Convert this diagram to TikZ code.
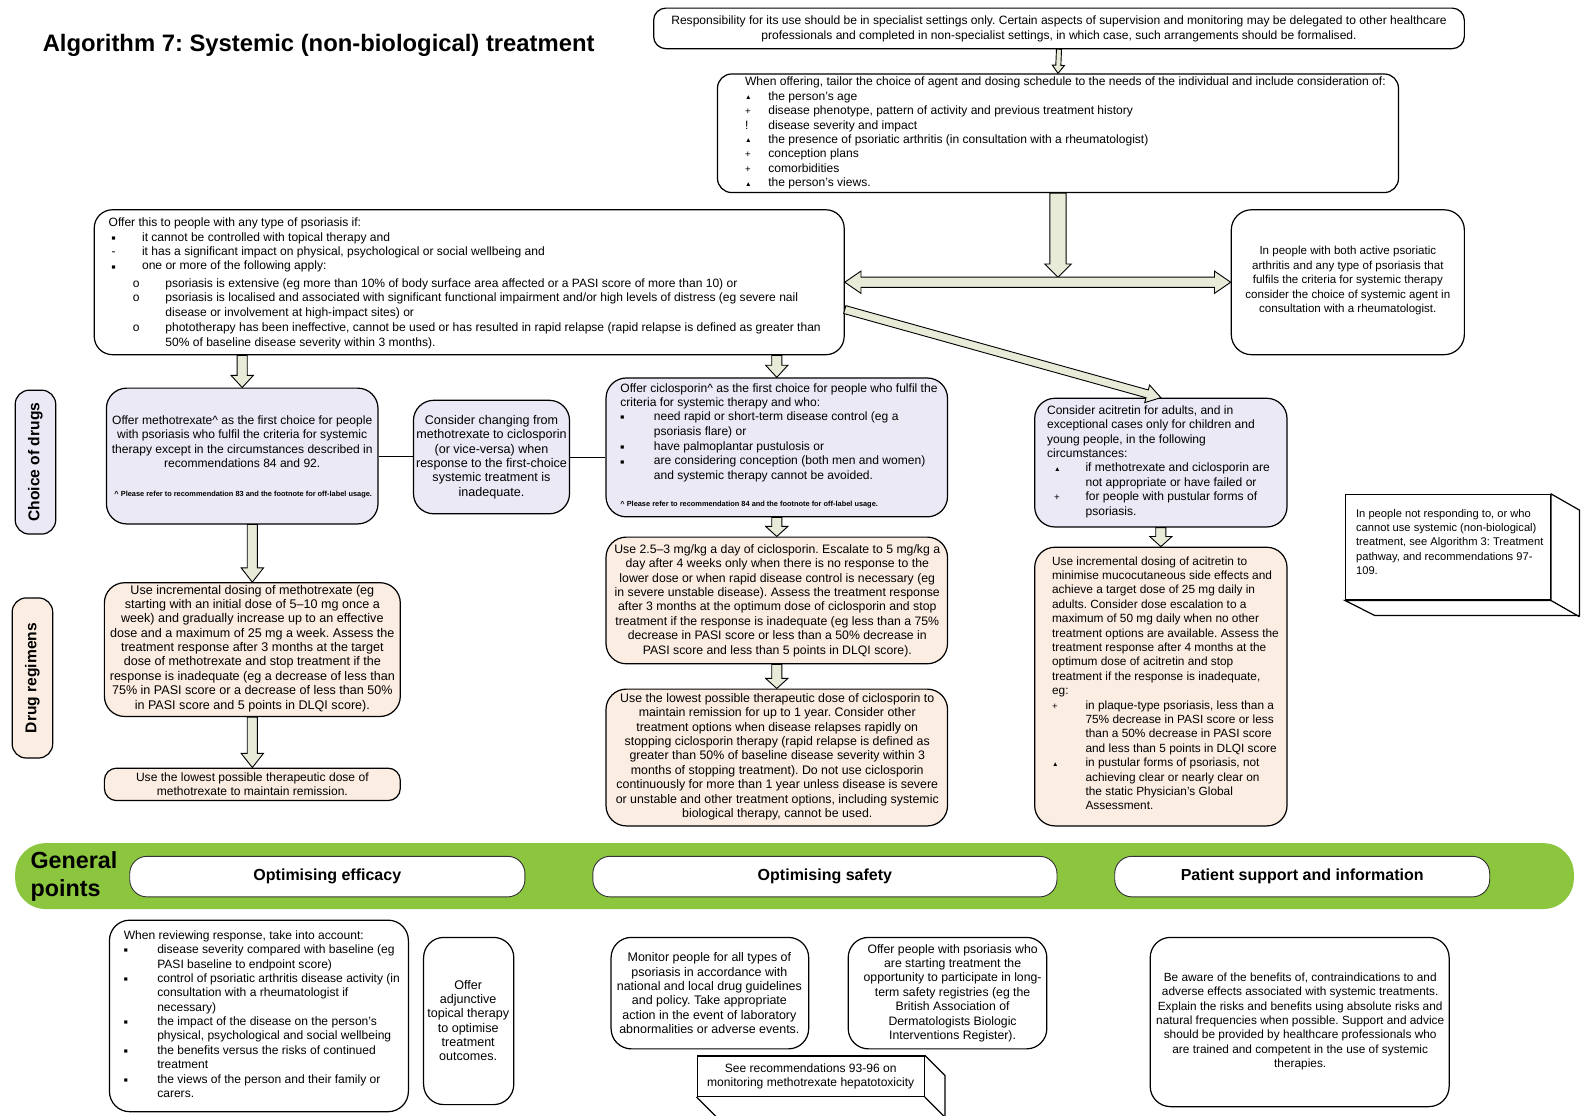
\documentclass[tikz,border=0pt]{standalone}
\usepackage{fontspec}
\usepackage{graphicx}
\setmainfont{Liberation Sans}
\usetikzlibrary{calc,fit}
\frenchspacing

\definecolor{lav}{HTML}{EAE9F5}
\definecolor{peach}{HTML}{FCEDE3}
\definecolor{band}{HTML}{8CC63F}
\definecolor{arrfill}{HTML}{E8EBD8}

% list marks
\newcommand{\tri}{\raisebox{0.6pt}{\scalebox{0.55}{▲}}}
\newcommand{\pls}{\scalebox{0.8}{+}}
\newcommand{\sqm}{\raisebox{0.8pt}{\scalebox{0.55}{■}}}
\newcommand{\mk}[2]{\makebox[#1pt][l]{#2}}
\newcommand{\ind}[1]{\hspace*{#1pt}}

% block arrow: start, end, shaft width, head width, head length
\newcommand{\blockarrow}[5]{%
  \path let \p1=#1, \p2=#2, \n1={atan2(\y2-\y1,\x2-\x1)},
    \n2={veclen(\x2-\x1,\y2-\y1)} in
    \pgfextra{\xdef\baX{\x1}\xdef\baY{\y1}\xdef\baA{\n1}\xdef\baL{\n2}};
  \begin{scope}[shift={(\baX,\baY)}, rotate=\baA]
    \draw[blockarr] (0pt,{-#3*0.5pt}) -- ({(\baL-#5)*1pt},{-#3*0.5pt})
      -- ({(\baL-#5)*1pt},{-#4*0.5pt}) -- ({\baL*1pt},0pt)
      -- ({(\baL-#5)*1pt},{#4*0.5pt}) -- ({(\baL-#5)*1pt},{#3*0.5pt})
      -- (0pt,{#3*0.5pt}) -- cycle;
  \end{scope}}

% block arrow with a head at both ends
\newcommand{\dblarrow}[5]{%
  \path let \p1=#1, \p2=#2, \n1={atan2(\y2-\y1,\x2-\x1)},
    \n2={veclen(\x2-\x1,\y2-\y1)} in
    \pgfextra{\xdef\baX{\x1}\xdef\baY{\y1}\xdef\baA{\n1}\xdef\baL{\n2}};
  \begin{scope}[shift={(\baX,\baY)}, rotate=\baA]
    \draw[blockarr] (0pt,0pt) -- ({#5*1pt},{-#4*0.5pt}) -- ({#5*1pt},{-#3*0.5pt})
      -- ({(\baL-#5)*1pt},{-#3*0.5pt})
      -- ({(\baL-#5)*1pt},{-#4*0.5pt}) -- ({\baL*1pt},0pt)
      -- ({(\baL-#5)*1pt},{#4*0.5pt}) -- ({(\baL-#5)*1pt},{#3*0.5pt})
      -- ({#5*1pt},{#3*0.5pt}) -- ({#5*1pt},{#4*0.5pt}) -- cycle;
  \end{scope}}

\begin{document}
\begin{tikzpicture}[x=1pt,y=-1pt,
  box/.style={draw, line width=1.2pt, rounded corners=14pt, inner sep=0pt},
  lavbox/.style={box, fill=lav},
  pchbox/.style={box, fill=peach},
  flatbox/.style={draw, line width=1.2pt, fill=white, inner sep=0pt},
  pill/.style={draw=black!80, line width=0.9pt, fill=white, rounded corners=17pt, inner sep=0pt},
  fs/.style={font=\fontsize{#1}{14.2}\selectfont},
  txt/.style={inner sep=0pt, fs=11.9, align=left},
  ctxt/.style={txt, align=center, anchor=north},
  ltxt/.style={txt, anchor=north west},
  note/.style={inner sep=0pt, font=\fontsize{7.3}{8}\selectfont\bfseries},
  side/.style={inner sep=0pt, font=\fontsize{15.4}{18}\selectfont\bfseries, rotate=90},
  head/.style={inner sep=0pt, font=\fontsize{15.8}{18}\selectfont\bfseries},
  blockarr/.style={draw=black, line width=0.9pt, fill=arrfill, line join=miter},
  link/.style={draw=black, line width=1pt}]

\useasboundingbox[fill=white] (0,0) rectangle (1568,1101);

% ---------- title ----------
\node[anchor=west, inner sep=0pt, font=\fontsize{23.5}{28}\selectfont\bfseries] (title) at (42,45)
  {Algorithm 7: Systemic (non-biological) treatment};

% ---------- top of the pathway ----------
\node[box, rounded corners=12pt, fit={(645,8) (1445,48)}] (topbox) {};
\node[ctxt] (toptext) at (1045,15.5) {Responsibility for its use should be in specialist settings only. Certain aspects of supervision and monitoring may be delegated to other healthcare\\
professionals and completed in non-specialist settings, in which case, such arrangements should be formalised.};

\node[box, fit={(708,73) (1380,190)}] (second) {};
\node[ltxt] (secondtext) at (735,76) {When offering, tailor the choice of agent and dosing schedule to the needs of the individual and include consideration of:\\
\mk{23}{\tri}the person's age\\
\mk{23}{\pls}disease phenotype, pattern of activity and previous treatment history\\
\mk{23}{!}disease severity and impact\\
\mk{23}{\tri}the presence of psoriatic arthritis (in consultation with a rheumatologist)\\
\mk{23}{\pls}conception plans\\
\mk{23}{\pls}comorbidities\\
\mk{23}{\tri}the person's views.};

\node[box, rounded corners=18pt, fit={(93,207) (833,350)}] (offer) {};
\node[ltxt] (offertext) at (107,215) {Offer this to people with any type of psoriasis if:\\
\ind{3}\mk{30}{\sqm}it cannot be controlled with topical therapy and\\
\ind{3}\mk{30}{-}it has a significant impact on physical, psychological or social wellbeing and\\
\ind{3}\mk{30}{\sqm}one or more of the following apply:\\[3pt]
\ind{24}\mk{32}{o}psoriasis is extensive (eg more than 10\% of body surface area affected or a PASI score of more than 10) or\\
\ind{24}\mk{32}{o}psoriasis is localised and associated with significant functional impairment and/or high levels of distress (eg severe nail\\
\ind{56}disease or involvement at high-impact sites) or\\[1pt]
\ind{24}\mk{32}{o}phototherapy has been ineffective, cannot be used or has resulted in rapid relapse (rapid relapse is defined as greater than\\
\ind{56}50\% of baseline disease severity within 3 months).};

\node[box, rounded corners=20pt, fit={(1215,207) (1445,350)}] (rightbox) {};
\node[txt, fs=11.4, align=center] (righttext) at (1330,277) {In people with both active psoriatic\\
arthritis and any type of psoriasis that\\
fulfils the criteria for systemic therapy\\
consider the choice of systemic agent in\\
consultation with a rheumatologist.};

% ---------- choice of drugs ----------
\node[lavbox, fit={(15,385) (55,527)}] (labchoice) {};
\node[side] (labchoicetext) at (labchoice.center) {Choice of drugs};

\node[lavbox, rounded corners=20pt, fit={(105,383) (373,517)}] (meth) {};
\node[ctxt] (methtext) at (239,410) {Offer methotrexate\textasciicircum{} as the first choice for people\\
with psoriasis who fulfil the criteria for systemic\\
therapy except in the circumstances described in\\
recommendations 84 and 92.};
\node[note] (methnote) at (240,488) {\textasciicircum{} Please refer to recommendation 83 and the footnote for off-label usage.};

\node[lavbox, rounded corners=20pt, fit={(408,395) (562,507)}] (consider) {};
\node[txt, fs=12.4, align=center] (considertext) at (485,451) {Consider changing from\\
methotrexate to ciclosporin\\
(or vice-versa) when\\
response to the first-choice\\
systemic treatment is\\
inadequate.};

\node[lavbox, rounded corners=20pt, fit={(598,373) (935,510)}] (ciclo) {};
\node[ltxt] (ciclotext) at (612,378) {Offer ciclosporin\textasciicircum{} as the first choice for people who fulfil the\\
criteria for systemic therapy and who:\\
\mk{33}{\sqm}need rapid or short-term disease control (eg a\\
\ind{33}psoriasis flare) or\\[1pt]
\mk{33}{\sqm}have palmoplantar pustulosis or\\
\mk{33}{\sqm}are considering conception (both men and women)\\
\ind{33}and systemic therapy cannot be avoided.};
\node[note, anchor=west] (ciclonote) at (612,498) {\textasciicircum{} Please refer to recommendation 84 and the footnote for off-label usage.};

\node[lavbox, rounded corners=20pt, fit={(1021,393) (1270,520)}] (acit) {};
\node[ltxt] (acittext) at (1033,400) {Consider acitretin for adults, and in\\
exceptional cases only for children and\\
young people, in the following\\
circumstances:\\
\ind{7}\mk{31}{\tri}if methotrexate and ciclosporin are\\
\ind{38}not appropriate or have failed or\\
\ind{7}\mk{31}{\pls}for people with pustular forms of\\
\ind{38}psoriasis.};

\node[flatbox, fit={(1328,488) (1530,592)}] (seealgo) {};
\draw[line width=1.2pt, fill=white] (seealgo.north east) -- ++(28,16) -- ++(0,104) -- ++(-202,0)
  -- (seealgo.south west) -- (seealgo.south east) -- cycle;
\draw[line width=1.2pt] (seealgo.south east) -- ++(28,16);
\node[ltxt, fs=11] (seealgotext) at (1338,502) {In people not responding to, or who\\
cannot use systemic (non-biological)\\
treatment, see Algorithm 3: Treatment\\
pathway, and recommendations 97-\\
109.};

% ---------- drug regimens ----------
\node[pchbox, fit={(12,590) (52,748)}] (labdose) {};
\node[side] (labdosetext) at (labdose.center) {Drug regimens};

\node[pchbox, rounded corners=20pt, fit={(103,575) (395,707)}] (mreg) {};
\node[ctxt, fs=12.4] (mregtext) at (249,577) {Use incremental dosing of methotrexate (eg\\
starting with an initial dose of 5–10 mg once a\\
week) and gradually increase up to an effective\\
dose and a maximum of 25 mg a week. Assess the\\
treatment response after 3 months at the target\\
dose of methotrexate and stop treatment if the\\
response is inadequate (eg a decrease of less than\\
75\% in PASI score or a decrease of less than 50\%\\
in PASI score and 5 points in DLQI score).};

\node[pchbox, rounded corners=12pt, fit={(103,758) (395,790)}] (mlow) {};
\node[txt, align=center] (mlowtext) at (mlow.center) {Use the lowest possible therapeutic dose of\\
methotrexate to maintain remission.};

\node[pchbox, rounded corners=20pt, fit={(598,530) (935,655)}] (creg) {};
\node[ctxt, fs=12.1] (cregtext) at (767,537) {Use 2.5–3 mg/kg a day of ciclosporin. Escalate to 5 mg/kg a\\
day after 4 weeks only when there is no response to the\\
lower dose or when rapid disease control is necessary (eg\\
in severe unstable disease). Assess the treatment response\\
after 3 months at the optimum dose of ciclosporin and stop\\
treatment if the response is inadequate (eg less than a 75\%\\
decrease in PASI score or less than a 50\% decrease in\\
PASI score and less than 5 points in DLQI score).};

\node[pchbox, rounded corners=20pt, fit={(598,680) (935,815)}] (clow) {};
\node[ctxt, fs=12.2] (clowtext) at (767,684) {Use the lowest possible therapeutic dose of ciclosporin to\\
maintain remission for up to 1 year. Consider other\\
treatment options when disease relapses rapidly on\\
stopping ciclosporin therapy (rapid relapse is defined as\\
greater than 50\% of baseline disease severity within 3\\
months of stopping treatment). Do not use ciclosporin\\
continuously for more than 1 year unless disease is severe\\
or unstable and other treatment options, including systemic\\
biological therapy, cannot be used.};

\node[pchbox, rounded corners=20pt, fit={(1021,540) (1270,815)}] (areg) {};
\node[ltxt, fs=11.7] (aregtext) at (1038,549) {Use incremental dosing of acitretin to\\
minimise mucocutaneous side effects and\\
achieve a target dose of 25 mg daily in\\
adults. Consider dose escalation to a\\
maximum of 50 mg daily when no other\\
treatment options are available. Assess the\\
treatment response after 4 months at the\\
optimum dose of acitretin and stop\\
treatment if the response is inadequate,\\
eg:\\
\mk{33}{\pls}in plaque-type psoriasis, less than a\\
\ind{33}75\% decrease in PASI score or less\\
\ind{33}than a 50\% decrease in PASI score\\
\ind{33}and less than 5 points in DLQI score\\
\mk{33}{\tri}in pustular forms of psoriasis, not\\
\ind{33}achieving clear or nearly clear on\\
\ind{33}the static Physician's Global\\
\ind{33}Assessment.};

% ---------- connectors ----------
\coordinate (hmid) at (second.south |- offer.east);
\blockarrow{(topbox.south)}{(second.north)}{5}{12}{8}
\blockarrow{(second.south)}{($(hmid)+(0,-5)$)}{16}{26}{13}
\dblarrow{(offer.east)}{(rightbox.west)}{10}{22}{16}
\blockarrow{($(offer.east)+(0,27)$)}{(acit.north)}{8}{18}{14}
\blockarrow{(offer.south -| meth.north)}{(meth.north)}{10}{22}{12}
\blockarrow{(offer.south -| ciclo.north)}{(ciclo.north)}{10}{22}{12}
\blockarrow{(meth.south -| mreg.north)}{(mreg.north)}{10}{22}{14}
\blockarrow{(mreg.south -| mlow.north)}{(mlow.north)}{10}{22}{14}
\blockarrow{(ciclo.south -| creg.north)}{(creg.north)}{10}{22}{10}
\blockarrow{(creg.south -| clow.north)}{(clow.north)}{10}{22}{10}
\blockarrow{(acit.south -| areg.north)}{(areg.north)}{10}{22}{10}
\draw[link] (meth.east) -- (consider.west |- meth.east);
\draw[link] (consider.east) -- (ciclo.west |- consider.east);

% ---------- general points ----------
\node[fill=band, rounded corners=30pt, inner sep=0pt, fit={(15,832) (1553,897)}] (band) {};
\node[anchor=west, inner sep=0pt, align=left, font=\fontsize{23}{28}\selectfont\bfseries] (gp) at (30,865) {General\\points};
\node[pill, fit={(128,845) (518,885)}] (efficacy) {};
\node[head] (efficacytext) at (efficacy.center) {Optimising efficacy};
\node[pill, fit={(585,845) (1043,885)}] (safety) {};
\node[head] (safetytext) at (safety.center) {Optimising safety};
\node[pill, fit={(1100,845) (1470,885)}] (support) {};
\node[head] (supporttext) at (support.center) {Patient support and information};

\node[box, rounded corners=20pt, fit={(108,908) (403,1097)}] (review) {};
\node[ltxt, fs=11.9] (reviewtext) at (122,918) {When reviewing response, take into account:\\
\mk{33}{\sqm}disease severity compared with baseline (eg\\
\ind{33}PASI baseline to endpoint score)\\
\mk{33}{\sqm}control of psoriatic arthritis disease activity (in\\
\ind{33}consultation with a rheumatologist if\\
\ind{33}necessary)\\
\mk{33}{\sqm}the impact of the disease on the person's\\
\ind{33}physical, psychological and social wellbeing\\
\mk{33}{\sqm}the benefits versus the risks of continued\\
\ind{33}treatment\\
\mk{33}{\sqm}the views of the person and their family or\\
\ind{33}carers.};

\node[box, rounded corners=20pt, fit={(418,925) (507,1090)}] (adjunct) {};
\node[txt, fs=12.4, align=center] (adjuncttext) at (462,1007) {Offer\\adjunctive\\topical therapy\\to optimise\\treatment\\outcomes.};

\node[box, rounded corners=20pt, fit={(603,925) (798,1035)}] (monitor) {};
\node[txt, fs=12.3, align=center] (monitortext) at (700,980) {Monitor people for all types of\\
psoriasis in accordance with\\
national and local drug guidelines\\
and policy. Take appropriate\\
action in the event of laboratory\\
abnormalities or adverse events.};

\node[box, rounded corners=20pt, fit={(837,925) (1033,1035)}] (registry) {};
\node[txt, fs=12.1, align=center] (registrytext) at (940,980) {Offer people with psoriasis who\\
are starting treatment the\\
opportunity to participate in long-\\
term safety registries (eg the\\
British Association of\\
Dermatologists Biologic\\
Interventions Register).};

\node[flatbox, fit={(688,1042) (912,1082)}] (hepato) {};
\draw[line width=1.2pt] (hepato.north east) -- ++(20,20) -- ++(0,40);
\draw[line width=1.2pt] (hepato.south east) -- ++(20,20);
\draw[line width=1.2pt] (hepato.south west) -- ++(20,20);
\node[txt, align=center] (hepatotext) at (hepato.center) {See recommendations 93-96 on\\
monitoring methotrexate hepatotoxicity};

\node[box, rounded corners=20pt, fit={(1135,925) (1430,1092)}] (aware) {};
\node[txt, fs=11.7, align=center] (awaretext) at (1283,1008) {Be aware of the benefits of, contraindications to and\\
adverse effects associated with systemic treatments.\\
Explain the risks and benefits using absolute risks and\\
natural frequencies when possible. Support and advice\\
should be provided by healthcare professionals who\\
are trained and competent in the use of systemic\\
therapies.};

\end{tikzpicture}
\end{document}
